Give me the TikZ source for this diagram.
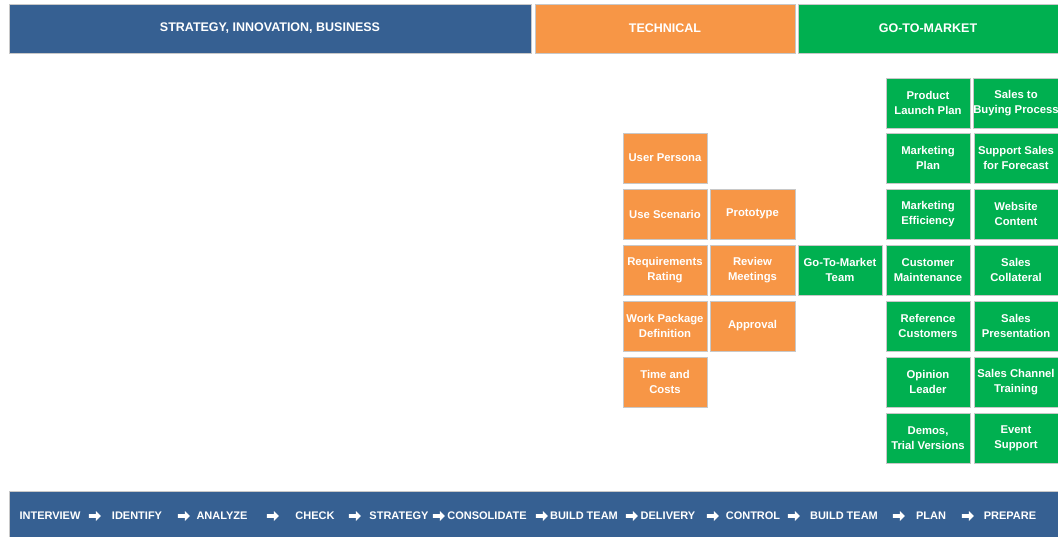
\documentclass[tikz,border=0pt]{standalone}
\usepackage{fontspec}
\setmainfont{Liberation Sans}
\usetikzlibrary{shapes.arrows}
\definecolor{hblue}{RGB}{54,96,146}
\definecolor{horange}{RGB}{247,150,70}
\definecolor{hgreen}{RGB}{0,176,80}
\definecolor{edge}{RGB}{200,200,200}
\tikzset{
  hdr/.style={draw=edge, line width=0.8pt, text=white, inner sep=0pt,
    minimum height=49pt, font=\fontsize{12.5}{14}\selectfont\bfseries},
  box/.style={draw=edge, line width=0.8pt, text=white, inner sep=0pt,
    minimum width=84pt, minimum height=50pt, align=center,
    font=\fontsize{11.3}{15}\selectfont\bfseries},
  obox/.style={box, fill=horange},
  gbox/.style={box, fill=hgreen},
  step lbl/.style={text=white, inner sep=0pt, font=\fontsize{11}{13}\selectfont\bfseries},
  flowarrow/.style={single arrow, fill=white, draw=none, inner sep=1.5pt,
    minimum width=10pt, minimum height=12pt, single arrow head extend=3pt}
}
\begin{document}
\begin{tikzpicture}[x=1pt,y=-1pt]
\useasboundingbox (0,0) rectangle (1058,537);
% headers
\node[hdr, fill=hblue, minimum width=522pt] (hs) at (270,28.5) {STRATEGY, INNOVATION, BUSINESS};
\node[hdr, fill=horange, minimum width=260pt] (ht) at (665,28.5) {TECHNICAL};
\node[hdr, fill=hgreen, minimum width=260pt] (hg) at (928,28.5) {GO-TO-MARKET};
% technical column
\node[obox] (up) at (665,158) {User Persona};
\node[obox] (us) at (665,214) {Use Scenario};
\node[obox] (rr) at (665,270) {Requirements\\Rating};
\node[obox] (wp) at (665,326) {Work Package\\Definition};
\node[obox] (tc) at (665,382) {Time and\\Costs};
\node[obox, minimum width=85pt] (pr) at (752.5,214) {Prototype};
\node[obox, minimum width=85pt] (rm) at (752.5,270) {Review\\Meetings};
\node[obox, minimum width=85pt] (ap) at (752.5,326) {Approval};
% go-to-market
\node[gbox] (gt) at (840,270) {Go-To-Market\\Team};
\node[gbox] (pl) at (928,103) {Product\\Launch Plan};
\node[gbox] (mp) at (928,158) {Marketing\\Plan};
\node[gbox] (me) at (928,214) {Marketing\\Efficiency};
\node[gbox] (cm) at (928,270) {Customer\\Maintenance};
\node[gbox] (rc) at (928,326) {Reference\\Customers};
\node[gbox] (ol) at (928,382) {Opinion\\Leader};
\node[gbox] (dt) at (928,438) {Demos,\\Trial Versions};
\node[gbox] (sb) at (1016,103) {Sales to\\Buying Process};
\node[gbox] (sf) at (1016,158) {Support Sales\\for Forecast};
\node[gbox] (wc) at (1016,214) {Website\\Content};
\node[gbox] (sc) at (1016,270) {Sales\\Collateral};
\node[gbox] (sp) at (1016,326) {Sales\\Presentation};
\node[gbox] (st) at (1016,382) {Sales Channel\\Training};
\node[gbox] (es) at (1016,438) {Event\\Support};
% bottom bar
\node[draw=edge, line width=0.8pt, fill=hblue, minimum width=1049pt, minimum height=47pt, inner sep=0pt] (bar) at (533.5,514.5) {};
\node[step lbl] (s1) at (50,516) {INTERVIEW};
\node[step lbl] (s2) at (137,516) {IDENTIFY};
\node[step lbl] (s3) at (222,516) {ANALYZE};
\node[step lbl] (s4) at (315,516) {CHECK};
\node[step lbl] (s5) at (399,516) {STRATEGY};
\node[step lbl] (s6) at (487,516) {CONSOLIDATE};
\node[step lbl] (s7) at (584,516) {BUILD TEAM};
\node[step lbl] (s8) at (668,516) {DELIVERY};
\node[step lbl] (s9) at (753,516) {CONTROL};
\node[step lbl] (s10) at (844,516) {BUILD TEAM};
\node[step lbl] (s11) at (931,516) {PLAN};
\node[step lbl] (s12) at (1010,516) {PREPARE};
\node[flowarrow] (a1) at (94,516) {};
\node[flowarrow] (a2) at (183,516) {};
\node[flowarrow] (a3) at (272,516) {};
\node[flowarrow] (a4) at (354,516) {};
\node[flowarrow] (a5) at (438,516) {};
\node[flowarrow] (a6) at (541,516) {};
\node[flowarrow] (a7) at (631,516) {};
\node[flowarrow] (a8) at (712,516) {};
\node[flowarrow] (a9) at (793,516) {};
\node[flowarrow] (a10) at (898,516) {};
\node[flowarrow] (a11) at (967,516) {};
\end{tikzpicture}
\end{document}
